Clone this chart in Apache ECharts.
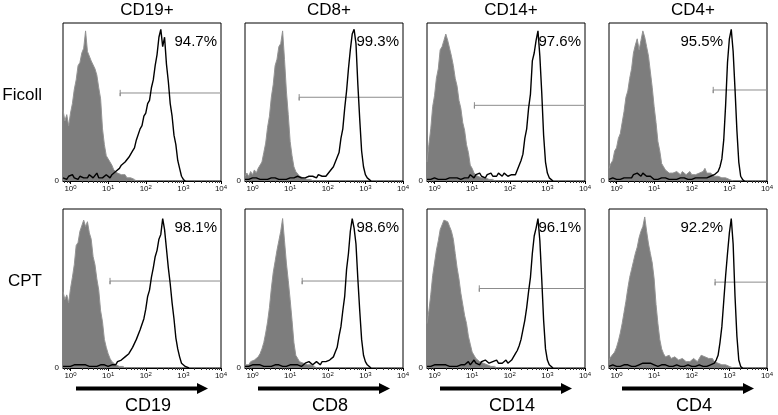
<!DOCTYPE html>
<html><head><meta charset="utf-8">
<script src="https://cdn.jsdelivr.net/npm/echarts@6/dist/echarts.min.js"></script>
<style>html,body{margin:0;padding:0;background:#fff}#c{width:778px;height:415px}</style>
</head><body><div id="c"></div>
<script>
// ---- data: histogram counts (% of panel max), bins every 0.05 decade starting at 10^-0.2 ----
const LOG_MIN = -0.2, LOG_MAX = 4.0, LOG_STEP = 0.05;
const columnTitles = ['CD19+', 'CD8+', 'CD14+', 'CD4+'];
const markerLabels = ['CD19', 'CD8', 'CD14', 'CD4'];
const rowLabels = ['Ficoll', 'CPT'];
const tickExponents = [0, 1, 2, 3, 4];
const percents = [['94.7%', '99.3%', '97.6%', '95.5%'], ['98.1%', '98.6%', '96.1%', '92.2%']];
const gateStart = [[1.32, 1.24, 1.06, 2.57], [1.05, 1.32, 1.19, 2.62]];
const gateLevel = [[55.7, 53, 47.9, 57.6], [54.7, 54.7, 50, 54]];

// isotype controls (grey filled)
const isoFicollCD19 = [45,38,42,35,43,49,58,64,73,75,81,84,95,82,81,76,75,71,67,59,52,33,23,16,15,12,10,7,7,5,5,4,3,4,2,2,2,1,1,0];
const isoFicollCD8  = [3,5,3,6,4,7,5,8,9,12,18,24,34,41,53,61,73,77,85,87,95,77,57,42,25,16,9,6,5,3,3,2,2,1,1,1,0];
const isoFicollCD14 = [12,23,33,47,54,65,71,83,85,89,93,89,90,79,73,65,60,51,46,37,32,23,18,10,8,5,5,3,4,2,3,2,2,1,2,1,0];
const isoFicollCD4  = [8,11,13,19,21,27,30,37,44,53,57,65,71,81,86,90,83,89,95,91,85,79,69,59,47,37,25,19,11,9,7,6,5,6,5,4,6,5,4,6,5,4,5,6,4,5,4,3,5,4,6,8,5,4,5,4,3,4,3,3,2,3,2,1,1,1,0];
const isoCptCD19 = [48,43,46,41,50,57,65,77,79,86,87,93,89,92,85,81,70,65,56,49,36,29,18,13,9,6,4,3,2,2,1,1,1,0];
const isoCptCD8  = [2,3,2,4,4,5,6,7,9,12,16,22,29,38,50,60,67,74,80,86,94,80,66,55,43,30,16,8,6,4,3,3,2,2,1,2,1,1,0];
const isoCptCD14 = [28,36,46,58,66,74,80,87,90,93,94,92,89,86,81,72,63,56,47,40,33,28,20,15,10,8,6,5,4,3,3,2,2,2,1,1,1,0];
const isoCptCD4  = [5,7,8,10,13,17,22,28,35,42,50,57,62,67,72,76,82,86,89,95,86,78,72,66,56,40,28,18,12,9,7,6,8,6,5,7,6,5,4,6,5,4,5,4,5,6,5,4,6,8,9,7,8,6,5,6,4,5,3,3,2,3,2,2,1,1,0];

// stained samples (black line)
const stainFicollCD19 = [2,3,1,3,2,4,2,3,1,3,4,2,3,2,4,3,2,3,5,2,3,2,3,4,
  3,2,4,3,6,5,8,10,9,12,11,15,14,19,21,26,27,33,35,41,43,49,51,59,64,73,80,91,96,85,91,74,63,49,41,29,23,13,8,3,1,0];
const stainFicollCD8 = [1,2,1,1,2,1,2,1,1,2,1,2,1,1,2,1,2,2,1,2,1,2,1,2,2,1,2,2,3,2,2,3,2,2,3,2,3,3,2,4,3,3,4,3,
  4,6,6,9,10,15,18,27,33,46,57,71,83,93,96,87,61,39,19,9,4,2,1,0];
const stainFicollCD14 = [1,2,1,1,2,1,1,2,1,2,1,2,2,1,2,1,2,2,1,2,
  2,3,2,4,3,2,4,3,5,3,4,2,4,3,5,3,4,3,5,4,3,5,4,3,4,
  4,5,4,7,8,13,17,27,33,46,55,76,81,89,95,79,56,29,12,5,2,1,0];
const stainFicollCD4 = [1,1,2,1,1,2,1,1,2,1,2,3,2,4,3,5,4,3,5,4,3,2,3,
  2,1,2,1,1,2,1,2,1,1,2,1,2,1,1,2,1,2,1,1,2,1,2,2,1,2,1,2,
  2,2,3,3,3,4,5,6,9,14,26,48,75,90,96,82,58,32,12,3,1,0];
const stainCptCD19 = [1,2,1,2,1,2,2,1,2,1,2,1,2,2,1,2,1,2,1,2,2,1,2,2,1,2,
  2,3,2,4,3,5,4,7,6,9,9,13,13,18,19,24,25,31,37,45,49,57,63,70,74,81,84,94,87,75,63,53,41,31,19,12,7,3,2,1,1,0];
const stainCptCD8 = [1,2,1,1,2,1,2,1,2,1,1,2,1,2,1,1,2,1,2,2,1,2,1,1,2,1,2,1,2,2,1,
  2,3,2,4,3,2,3,4,3,2,4,3,4,
  4,5,6,7,10,13,20,26,36,45,62,72,86,94,88,78,56,36,18,8,4,2,1,0];
const stainCptCD14 = [1,2,1,2,2,1,2,1,2,1,2,2,1,2,1,2,1,2,2,1,
  2,3,4,2,3,5,3,4,2,4,3,5,4,3,2,4,3,5,3,4,3,4,5,3,
  3,5,7,9,11,14,18,24,30,38,48,57,72,83,88,94,80,56,30,12,5,2,1,0];
const stainCptCD4 = [1,1,2,1,1,2,1,1,2,1,2,1,1,2,1,2,
  2,3,3,4,3,4,3,3,2,
  2,1,1,2,1,2,1,1,2,1,1,2,1,1,2,1,1,2,1,1,2,1,1,2,1,1,1,
  1,2,2,3,3,5,8,16,26,42,58,72,85,94,78,45,20,5,1,0];

const isotype = [[isoFicollCD19, isoFicollCD8, isoFicollCD14, isoFicollCD4], [isoCptCD19, isoCptCD8, isoCptCD14, isoCptCD4]];
const stained = [[stainFicollCD19, stainFicollCD8, stainFicollCD14, stainFicollCD4], [stainCptCD19, stainCptCD8, stainCptCD14, stainCptCD4]];

// ---- layout ----
const GL = [63, 245, 427, 609], GW = 158, GT = [23, 209], GH = [158, 159];
const FONT = '"Liberation Sans", Arial, Helvetica, sans-serif';
const minorTicks = [];
[-1, 0, 1, 2, 3].forEach(d => { for (let k = 2; k <= 9; k++) { const v = d + Math.log10(k); if (v > LOG_MIN && v < LOG_MAX) minorTicks.push(v); } });

function toXY(arr) { return arr.map((v, i) => [LOG_MIN + i * LOG_STEP, v]); }

const grids = [], xAxes = [], yAxes = [], series = [], graphics = [];
for (let r = 0; r < 2; r++) {
  for (let c = 0; c < 4; c++) {
    const gi = r * 4 + c;
    grids.push({ left: GL[c], top: GT[r], width: GW, height: GH[r], show: true, borderColor: '#000', borderWidth: 1 });
    xAxes.push({
      gridIndex: gi, type: 'value', min: LOG_MIN, max: LOG_MAX, position: 'bottom',
      axisLine: { show: true, lineStyle: { color: '#000', width: 1 } },
      axisTick: { show: true, customValues: tickExponents, length: 3, lineStyle: { color: '#000' } },
      axisLabel: {
        customValues: tickExponents, margin: 3, color: '#111',
        formatter: v => '{b|10}{s|' + Math.round(v) + '}',
        rich: {
          b: { fontSize: 8, fontFamily: FONT, color: '#111', verticalAlign: 'bottom', lineHeight: 9, padding: [3, 0, 0, 0] },
          s: { fontSize: 6, fontFamily: FONT, color: '#111', verticalAlign: 'top', lineHeight: 7 }
        }
      },
      splitLine: { show: false }
    });
    xAxes.push({
      gridIndex: gi, type: 'value', min: LOG_MIN, max: LOG_MAX, position: 'bottom',
      axisLine: { show: false },
      axisTick: { show: true, customValues: minorTicks, length: 2, lineStyle: { color: '#333' } },
      axisLabel: { show: false }, splitLine: { show: false }
    });
    yAxes.push({
      gridIndex: gi, type: 'value', min: 0, max: 100,
      axisLine: { show: false },
      axisTick: { show: true, customValues: [0], length: 3, lineStyle: { color: '#000' } },
      axisLabel: { customValues: [0], formatter: () => '0', fontSize: 8, fontFamily: FONT, color: '#111', margin: 4 },
      splitLine: { show: false }
    });
    series.push({
      type: 'line', xAxisIndex: 2 * gi, yAxisIndex: gi, data: toXY(isotype[r][c]),
      symbol: 'none', silent: true, z: 2,
      lineStyle: { color: '#939393', width: 1 },
      areaStyle: { color: '#7d7d7d', opacity: 1 }
    });
    const g = gateStart[r][c], lv = gateLevel[r][c];
    series.push({
      type: 'line', xAxisIndex: 2 * gi, yAxisIndex: gi,
      data: [[g, lv + 2], [g, lv - 2], [g, lv], [LOG_MAX, lv]],
      symbol: 'none', silent: true, z: 3,
      lineStyle: { color: '#8c8c8c', width: 1 }
    });
    series.push({
      type: 'line', xAxisIndex: 2 * gi, yAxisIndex: gi, data: toXY(stained[r][c]),
      symbol: 'none', silent: true, z: 4,
      lineStyle: { color: '#000', width: 1.4 }
    });
    const right = c === 3 ? GL[c] + 114 : GL[c] + GW - 4;
    graphics.push({ type: 'text', x: right, y: GT[r] + 19, z: 10,
      style: { text: percents[r][c], fontSize: 15, fontFamily: FONT, fill: '#000', align: 'right', verticalAlign: 'middle' } });
  }
}
for (let c = 0; c < 4; c++) {
  graphics.push({ type: 'text', x: GL[c] + 84, y: 10,
    style: { text: columnTitles[c], fontSize: 17, fontFamily: FONT, fill: '#000', align: 'center', verticalAlign: 'middle' } });
  const ay = 388.5, x0 = GL[c] + 13, xb = GL[c] + 134, xt = GL[c] + 145;
  graphics.push({ type: 'line', shape: { x1: x0, y1: ay, x2: xb + 1, y2: ay }, style: { stroke: '#000', lineWidth: 4 } });
  graphics.push({ type: 'polygon', shape: { points: [[xb, ay - 5.5], [xt, ay], [xb, ay + 5.5]] }, style: { fill: '#000' } });
  graphics.push({ type: 'text', x: GL[c] + 85, y: 406,
    style: { text: markerLabels[c], fontSize: 18, fontFamily: FONT, fill: '#000', align: 'center', verticalAlign: 'middle' } });
}
for (let r = 0; r < 2; r++) {
  graphics.push({ type: 'text', x: 42, y: GT[r] + GH[r] / 2 - 7,
    style: { text: rowLabels[r], fontSize: 17, fontFamily: FONT, fill: '#000', align: 'right', verticalAlign: 'middle' } });
}

const chart = echarts.init(document.getElementById('c'), null, { renderer: 'canvas' });
chart.setOption({
  animation: false,
  backgroundColor: '#fff',
  grid: grids, xAxis: xAxes, yAxis: yAxes, series: series, graphic: graphics
});
</script></body></html>
